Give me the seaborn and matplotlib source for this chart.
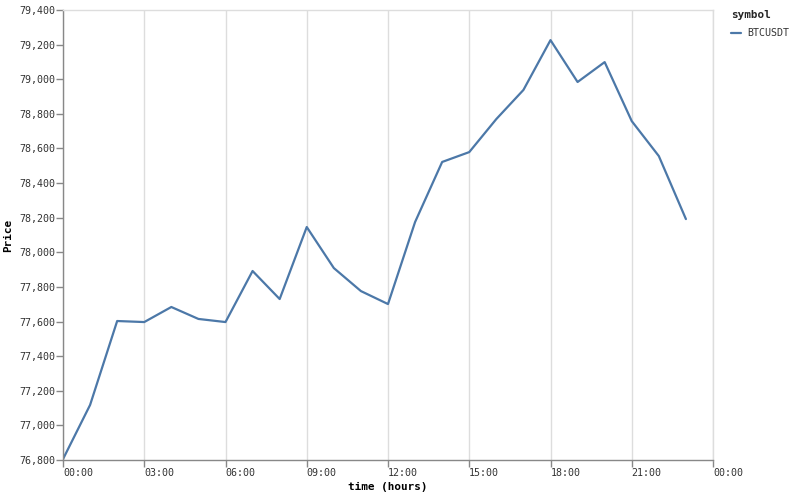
import matplotlib
matplotlib.use("Agg")
import matplotlib.pyplot as plt
import seaborn as sns
import pandas as pd

hours = list(range(24))
prices = [76805, 77118, 77603, 77597, 77684, 77615, 77597, 77892, 77730, 78146,
          77909, 77776, 77701, 78175, 78522, 78579, 78770, 78938, 79226, 78984,
          79099, 78758, 78556, 78192]
symbol = ["BTCUSDT"] * 24
x_ticks = [0, 3, 6, 9, 12, 15, 18, 21, 24]
x_labels = ["00:00", "03:00", "06:00", "09:00", "12:00", "15:00", "18:00", "21:00", "00:00"]
y_ticks = list(range(76800, 79401, 200))

df = pd.DataFrame({"hour": hours, "Price": prices, "symbol": symbol})

sns.set_theme(style="white")
plt.rcParams['font.family'] = ['DejaVu Sans Mono']

fig = plt.figure(figsize=(7.94, 4.97), dpi=100)
ax = fig.add_axes([63/794, 37/497, 650/794, 450/497])
sns.lineplot(data=df, x="hour", y="Price", hue="symbol", palette=["#4c78a8"],
             linewidth=1.6, ax=ax, legend=True)

ax.set_xlim(0, 24)
ax.set_ylim(76800, 79400)
ax.set_xticks(x_ticks)
ax.set_xticklabels(x_labels, ha="left")
ax.set_yticks(y_ticks)
ax.set_yticklabels([f"{v:,}" for v in y_ticks])
ax.tick_params(axis="both", length=5, width=1, color="#888888", labelsize=7.2,
               labelcolor="#333333", pad=0.8, bottom=True, left=True)
ax.grid(axis="x", color="#dddddd", linewidth=1)
ax.grid(axis="y", visible=False)
for s in ["top", "right"]:
    ax.spines[s].set_color("#dddddd")
    ax.spines[s].set_linewidth(1)
for s in ["left", "bottom"]:
    ax.spines[s].set_color("#888888")
    ax.spines[s].set_linewidth(1)
ax.set_xlabel("time (hours)", fontsize=7.9, fontweight="bold", color="black", labelpad=3)
ax.set_ylabel("Price", fontsize=7.9, fontweight="bold", color="black", labelpad=4)

leg = ax.legend(title="symbol", loc="upper left", bbox_to_anchor=(729/794, 1 - 8/497),
                bbox_transform=fig.transFigure, frameon=False, fontsize=7.2,
                title_fontsize=7.9, handlelength=1.0, handletextpad=0.6,
                borderaxespad=0, borderpad=0.2, labelspacing=0.6)
leg.get_title().set_fontweight("bold")
leg._legend_box.align = "left"
leg._legend_box.sep = 6
for t in leg.get_texts():
    t.set_color("#333333")
for h in leg.get_lines():
    h.set_linewidth(1.6)

fig.savefig("out.png", dpi=100)
